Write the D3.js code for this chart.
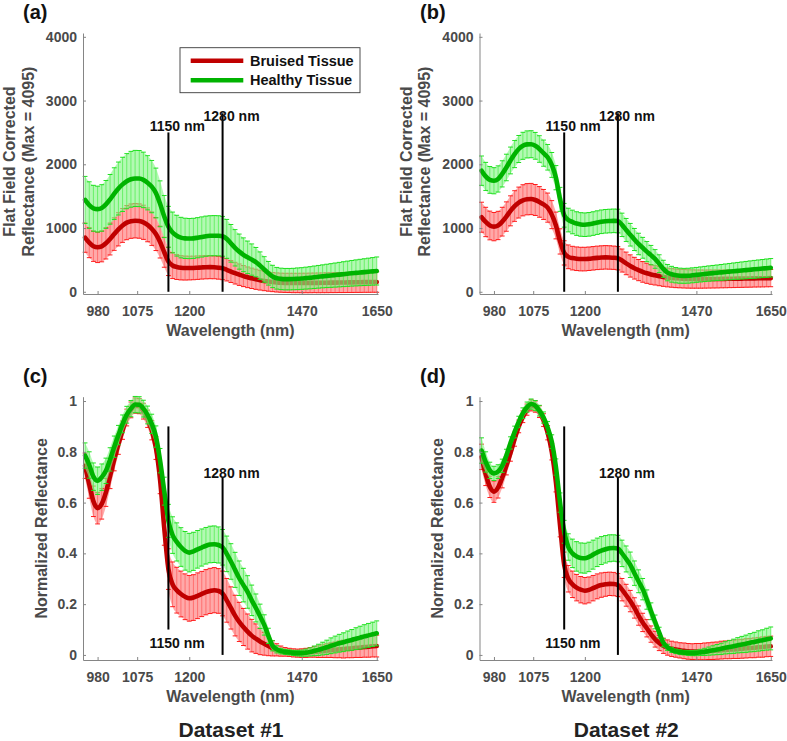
<!DOCTYPE html>
<html><head><meta charset="utf-8">
<script src="https://cdn.jsdelivr.net/npm/d3@7"></script>
<style>body{margin:0;background:#fff}</style>
</head><body><svg id="c" width="787" height="741"></svg>
<script>
// ---------------- DATA ----------------
const wavelengths = [950,960,970,980,990,1000,1010,1020,1030,1040,
1050,1060,1070,1080,1090,1100,1110,1120,1130,1140,
1150,1160,1170,1180,1190,1200,1210,1220,1230,1240,
1250,1260,1270,1280,1290,1300,1310,1320,1330,1340,
1350,1360,1370,1380,1390,1400,1410,1420,1430,1440,
1450,1460,1470,1480,1490,1500,1510,1520,1530,1540,
1550,1560,1570,1580,1590,1600,1610,1620,1630,1640,1650];

const xTicks = [980, 1075, 1200, 1470, 1650];
const yTicksRaw = [0, 1000, 2000, 3000, 4000];
const yTicksNorm = [0, 0.2, 0.4, 0.6, 0.8, 1];
const seriesNames = ["Bruised Tissue", "Healthy Tissue"];
const markerWavelengths = [1150, 1280];
const markerLabels = ["1150 nm", "1280 nm"];
const markerRangesRaw = [[0, 2500], [0, 2800]];
const markerRangesNorm = [[0.1, 0.9], [0, 0.7]];
const datasetLabels = ["Dataset #1", "Dataset #2"];

// (a) Dataset 1, flat-field corrected
const healthyMeanA = [1440,1360,1310,1297,1315,1370,1450,1540,1620,1685,
1735,1765,1778,1776,1755,1710,1650,1550,1380,1180,
1020,930,880,850,838,835,838,848,860,872,
878,880,878,870,830,760,690,630,580,540,
505,465,410,350,290,240,212,202,198,198,
200,204,208,214,220,228,235,242,249,255,
262,269,276,283,290,296,302,308,314,320,326];
const healthyStdA = [370,365,360,360,365,375,390,405,415,425,
432,438,440,440,435,425,410,390,360,330,
320,320,320,318,316,315,315,315,315,315,
315,315,315,312,305,295,285,275,265,255,
245,230,215,200,185,175,170,168,168,168,
168,170,170,172,174,176,178,180,183,186,
189,192,195,198,201,204,207,210,213,216,220];
const bruisedMeanA = [850,770,715,698,712,760,828,905,980,1040,
1085,1108,1115,1110,1090,1050,990,905,780,620,
475,412,388,376,372,372,374,378,382,385,
386,384,378,368,345,318,292,268,246,227,
211,196,182,170,160,152,146,142,140,139,
138,138,138,138,139,140,140,141,142,143,
144,145,146,147,148,149,150,151,152,153,154];
const bruisedStdA = [230,235,238,240,242,245,250,255,260,265,
268,270,270,270,268,265,262,258,250,235,
220,205,195,190,188,186,185,184,183,182,
181,180,180,178,175,172,170,168,165,162,
160,158,155,153,151,150,150,150,150,151,
152,152,153,153,154,154,155,155,156,156,
157,157,158,158,159,159,160,160,161,161,162];

// (b) Dataset 2, flat-field corrected
const healthyMeanB = [1900,1810,1755,1742,1770,1850,1950,2060,2160,2240,
2290,2312,2315,2290,2240,2175,2110,1990,1790,1450,
1200,1125,1095,1070,1056,1052,1058,1070,1085,1098,
1106,1110,1113,1110,1050,970,895,820,750,690,
630,575,515,440,360,300,275,260,252,250,
252,258,265,272,279,286,292,298,304,310,
316,322,328,334,340,346,352,358,364,370,376];
const healthyStdB = [230,220,210,205,205,205,208,210,212,212,
212,212,212,210,208,205,200,195,190,188,
186,185,185,185,185,185,185,185,185,185,
185,185,185,185,183,180,177,173,168,163,
158,152,146,140,134,128,124,120,118,117,
117,117,117,118,119,120,121,122,124,126,
128,130,132,134,136,138,140,141,142,144,145];
const bruisedMeanB = [1170,1095,1040,1022,1040,1100,1180,1270,1345,1400,
1435,1452,1455,1440,1410,1370,1320,1210,1040,790,
610,548,528,518,513,513,518,525,532,537,
540,538,534,526,490,445,405,370,340,312,
290,272,258,245,233,224,217,211,207,204,
201,200,199,199,199,200,200,201,202,203,
204,205,206,207,208,209,210,211,212,213,214];
const bruisedStdB = [235,230,225,222,222,225,230,235,240,242,
244,245,245,243,240,235,228,220,210,198,
190,186,185,185,185,185,184,184,184,184,
184,184,183,183,180,177,174,170,166,162,
158,155,152,150,148,147,146,146,145,145,
144,144,143,143,142,142,141,141,140,140,
139,139,138,138,137,137,136,136,136,135,135];

// (c) Dataset 1, normalized
const healthyMeanC = [0.785,0.748,0.702,0.686,0.700,0.725,0.770,0.820,0.866,0.910,
0.946,0.970,0.986,0.985,0.970,0.945,0.910,0.860,0.765,0.645,
0.528,0.472,0.445,0.425,0.410,0.403,0.408,0.416,0.423,0.430,
0.435,0.436,0.433,0.424,0.398,0.368,0.335,0.302,0.275,0.248,
0.215,0.185,0.152,0.118,0.075,0.036,0.022,0.015,0.012,0.010,
0.008,0.007,0.007,0.009,0.012,0.016,0.020,0.025,0.030,0.036,
0.041,0.046,0.050,0.055,0.059,0.064,0.068,0.073,0.077,0.081,0.085];
const healthyStdC = [0.050,0.052,0.054,0.054,0.052,0.050,0.046,0.042,0.038,0.035,
0.033,0.032,0.032,0.032,0.033,0.035,0.038,0.042,0.048,0.055,
0.065,0.072,0.075,0.076,0.076,0.076,0.075,0.074,0.073,0.072,
0.072,0.072,0.071,0.070,0.070,0.070,0.069,0.068,0.066,0.064,
0.060,0.055,0.048,0.040,0.030,0.020,0.014,0.011,0.010,0.010,
0.010,0.011,0.012,0.014,0.016,0.019,0.022,0.025,0.028,0.031,
0.033,0.035,0.037,0.039,0.041,0.043,0.045,0.046,0.047,0.048,0.049];
const bruisedMeanC = [0.745,0.672,0.605,0.578,0.595,0.640,0.705,0.770,0.830,0.885,
0.935,0.965,0.982,0.980,0.960,0.930,0.885,0.815,0.690,0.500,
0.338,0.278,0.255,0.240,0.229,0.223,0.226,0.233,0.240,0.247,
0.252,0.255,0.252,0.242,0.215,0.185,0.155,0.130,0.110,0.092,
0.076,0.064,0.053,0.044,0.035,0.026,0.020,0.015,0.012,0.010,
0.008,0.007,0.007,0.008,0.010,0.012,0.013,0.015,0.017,0.019,
0.020,0.022,0.023,0.025,0.026,0.028,0.029,0.031,0.032,0.034,0.035];
const bruisedStdC = [0.050,0.055,0.060,0.062,0.060,0.055,0.050,0.045,0.040,0.036,
0.033,0.031,0.030,0.030,0.031,0.034,0.038,0.045,0.055,0.068,
0.080,0.088,0.090,0.090,0.090,0.090,0.090,0.090,0.089,0.089,
0.089,0.089,0.088,0.088,0.086,0.083,0.080,0.077,0.073,0.069,
0.064,0.058,0.052,0.045,0.038,0.030,0.024,0.020,0.017,0.016,
0.016,0.016,0.017,0.018,0.019,0.021,0.023,0.025,0.027,0.029,
0.031,0.033,0.035,0.036,0.037,0.038,0.039,0.040,0.041,0.042,0.043];

// (d) Dataset 2, normalized
const healthyMeanD = [0.805,0.760,0.727,0.715,0.722,0.745,0.785,0.835,0.878,0.918,
0.952,0.976,0.988,0.982,0.962,0.935,0.895,0.840,0.740,0.600,
0.485,0.425,0.400,0.388,0.382,0.381,0.386,0.395,0.404,0.411,
0.416,0.420,0.421,0.419,0.400,0.378,0.355,0.322,0.290,0.259,
0.218,0.172,0.130,0.088,0.048,0.030,0.020,0.014,0.011,0.009,
0.008,0.007,0.008,0.010,0.012,0.015,0.018,0.021,0.024,0.028,
0.031,0.034,0.038,0.041,0.044,0.048,0.051,0.055,0.058,0.062,0.065];
const healthyStdD = [0.050,0.040,0.032,0.028,0.027,0.026,0.025,0.024,0.023,0.022,
0.021,0.020,0.020,0.020,0.021,0.022,0.024,0.027,0.032,0.038,
0.045,0.052,0.056,0.058,0.059,0.059,0.058,0.057,0.056,0.055,
0.054,0.053,0.052,0.052,0.052,0.051,0.050,0.048,0.045,0.042,
0.038,0.033,0.027,0.021,0.016,0.012,0.010,0.009,0.009,0.009,
0.010,0.010,0.011,0.012,0.014,0.016,0.018,0.020,0.022,0.024,
0.026,0.028,0.030,0.032,0.034,0.036,0.038,0.040,0.041,0.043,0.045];
const bruisedMeanD = [0.780,0.712,0.662,0.643,0.660,0.698,0.745,0.795,0.850,0.900,
0.938,0.966,0.983,0.978,0.958,0.925,0.875,0.800,0.680,0.510,
0.355,0.300,0.278,0.265,0.257,0.253,0.256,0.263,0.270,0.275,
0.278,0.280,0.279,0.275,0.257,0.235,0.212,0.185,0.155,0.128,
0.105,0.082,0.062,0.047,0.036,0.029,0.024,0.021,0.018,0.016,
0.014,0.013,0.013,0.013,0.014,0.015,0.016,0.017,0.019,0.020,
0.021,0.022,0.023,0.024,0.026,0.027,0.028,0.030,0.031,0.033,0.034];
const bruisedStdD = [0.050,0.045,0.042,0.042,0.042,0.040,0.036,0.032,0.028,0.025,
0.023,0.022,0.022,0.022,0.023,0.025,0.028,0.032,0.038,0.045,
0.050,0.052,0.052,0.052,0.052,0.052,0.051,0.050,0.049,0.048,
0.047,0.046,0.046,0.045,0.044,0.043,0.042,0.040,0.038,0.036,
0.034,0.032,0.031,0.030,0.030,0.030,0.030,0.030,0.030,0.031,
0.031,0.031,0.032,0.032,0.033,0.033,0.034,0.034,0.035,0.035,
0.036,0.036,0.037,0.037,0.038,0.038,0.039,0.039,0.040,0.040,0.040];

// ---------------- STYLE / LAYOUT ----------------
const FONT = "'Liberation Sans', Arial, Helvetica, sans-serif";
const AXIS_COLOR = "#858585", TICK_TEXT = "#4a4a4a";
const styles = {
  bruised: {band:"#ff9494", bandOp:0.8, bar:"#ff6262", cap:"#ff1a1a", mean:"#c00000"},
  healthy: {band:"#84f584", bandOp:0.62, bar:"#55ee55", cap:"#1ee01e", mean:"#00b300"}
};

const panels = [
  {letter:"(a)", lx:23, ly:18.5, left:83, right:378, top:33, bottom:294, yDomain:[-35,4060], yTicks:yTicksRaw,
   b:[bruisedMeanA,bruisedStdA], h:[healthyMeanA,healthyStdA], norm:false,
   yTitle:["Flat Field Corrected","Reflectance (Max = 4095)"], legend:true},
  {letter:"(b)", lx:420, ly:18.5, left:479.5, right:772, top:33, bottom:294, yDomain:[-35,4060], yTicks:yTicksRaw,
   b:[bruisedMeanB,bruisedStdB], h:[healthyMeanB,healthyStdB], norm:false,
   yTitle:["Flat Field Corrected","Reflectance (Max = 4095)"], legend:false},
  {letter:"(c)", lx:23, ly:382.7, left:83, right:378, top:396.7, bottom:660, yDomain:[-0.02,1.017], yTicks:yTicksNorm,
   b:[bruisedMeanC,bruisedStdC], h:[healthyMeanC,healthyStdC], norm:true,
   yTitle:["Normalized Reflectance"], legend:false, dataset:datasetLabels[0]},
  {letter:"(d)", lx:420, ly:382.7, left:479.5, right:772, top:396.7, bottom:660, yDomain:[-0.02,1.017], yTicks:yTicksNorm,
   b:[bruisedMeanD,bruisedStdD], h:[healthyMeanD,healthyStdD], norm:true,
   yTitle:["Normalized Reflectance"], legend:false, dataset:datasetLabels[1]}
];

const svg = d3.select("#c");
svg.append("rect").attr("width",787).attr("height",741).attr("fill","#fff");

function drawSeries(g, x, y, mean, std, st) {
  const pts = wavelengths.map((w,i)=>({w, m:mean[i], s:std[i]}));
  g.append("path").datum(pts)
    .attr("d", d3.area().x(d=>x(d.w)).y0(d=>y(d.m-d.s)).y1(d=>y(d.m+d.s)).curve(d3.curveMonotoneX))
    .attr("fill", st.band).attr("fill-opacity", st.bandOp);
  g.append("g").selectAll("line").data(pts).join("line")
    .attr("x1",d=>x(d.w)).attr("x2",d=>x(d.w))
    .attr("y1",d=>y(d.m-d.s)).attr("y2",d=>y(d.m+d.s))
    .attr("stroke",st.bar).attr("stroke-width",0.8);
  [1,-1].forEach(sg=>{
    g.append("g").selectAll("line").data(pts).join("line")
      .attr("x1",d=>x(d.w)-2.4).attr("x2",d=>x(d.w)+2.4)
      .attr("y1",d=>y(d.m+sg*d.s)).attr("y2",d=>y(d.m+sg*d.s))
      .attr("stroke",st.cap).attr("stroke-width",1);
  });
  g.append("path").datum(pts)
    .attr("d", d3.line().x(d=>x(d.w)).y(d=>y(d.m)).curve(d3.curveMonotoneX))
    .attr("fill","none").attr("stroke",st.mean).attr("stroke-width",4.6)
    .attr("stroke-linejoin","round").attr("stroke-linecap","round");
}

panels.forEach(p=>{
  const x = d3.scaleLinear().domain([945,1653]).range([p.left,p.right]);
  const y = d3.scaleLinear().domain(p.yDomain).range([p.bottom,p.top]);
  const g = svg.append("g");

  drawSeries(g, x, y, p.b[0], p.b[1], styles.bruised);
  drawSeries(g, x, y, p.h[0], p.h[1], styles.healthy);

  // marker lines
  const ranges = p.norm ? markerRangesNorm : markerRangesRaw;
  markerWavelengths.forEach((w,i)=>{
    g.append("line").attr("x1",x(w)).attr("x2",x(w))
      .attr("y1",y(ranges[i][0])).attr("y2",y(ranges[i][1]))
      .attr("stroke","#000").attr("stroke-width",2);
  });
  // marker labels
  const lab = (txt, cx, by)=> g.append("text").attr("x",cx).attr("y",by)
      .attr("text-anchor","middle").attr("font-family",FONT).attr("font-weight","bold")
      .attr("font-size",14).attr("fill","#111").text(txt);
  if (!p.norm) {
    lab(markerLabels[0], x(markerWavelengths[0])+9, y(ranges[0][1])-1.3);
    lab(markerLabels[1], x(markerWavelengths[1])+9, y(ranges[1][1])+7.4);
  } else {
    lab(markerLabels[0], x(markerWavelengths[0])+8.7, y(ranges[0][0])+18.8);
    lab(markerLabels[1], x(markerWavelengths[1])+9, y(ranges[1][1])+0.5);
  }

  // axes
  const ax = g.append("g").attr("transform",`translate(0,${p.bottom})`)
    .call(d3.axisBottom(x).tickValues(xTicks).tickSize(-3).tickSizeOuter(0).tickPadding(12).tickFormat(d=>d));
  const ay = g.append("g").attr("transform",`translate(${p.left},0)`)
    .call(d3.axisLeft(y).tickValues(p.yTicks).tickSize(-3).tickSizeOuter(0).tickPadding(6).tickFormat(d=>d));
  [ax,ay].forEach(a=>{
    a.select(".domain").attr("stroke",AXIS_COLOR).attr("stroke-width",1);
    a.selectAll(".tick line").attr("stroke",AXIS_COLOR);
    a.selectAll(".tick text").attr("font-family",FONT).attr("font-weight","bold")
      .attr("font-size",14).attr("fill",TICK_TEXT);
  });
  // x title
  g.append("text").attr("x",(p.left+p.right)/2).attr("y",p.bottom+41.5)
    .attr("text-anchor","middle").attr("font-family",FONT).attr("font-weight","bold")
    .attr("font-size",16).attr("fill",TICK_TEXT).text("Wavelength (nm)");
  // y title
  const cy = (p.top+p.bottom)/2 - 2;
  if (p.yTitle.length === 2) {
    [[p.yTitle[0], p.left-67.6],[p.yTitle[1], p.left-49.5]].forEach(([t,bx])=>{
      g.append("text").attr("transform",`translate(${bx},${cy}) rotate(-90)`)
        .attr("text-anchor","middle").attr("font-family",FONT).attr("font-weight","bold")
        .attr("font-size",16).attr("fill",TICK_TEXT).text(t);
    });
  } else {
    g.append("text").attr("transform",`translate(${p.left-36.3},${(p.top+p.bottom)/2}) rotate(-90)`)
      .attr("text-anchor","middle").attr("font-family",FONT).attr("font-weight","bold")
      .attr("font-size",16).attr("fill",TICK_TEXT).text(p.yTitle[0]);
  }
  // panel letter
  g.append("text").attr("x",p.lx).attr("y",p.ly).attr("font-family",FONT).attr("font-weight","bold")
    .attr("font-size",20).attr("fill","#111").text(p.letter);
  // dataset label
  if (p.dataset) {
    g.append("text").attr("x",(p.left+p.right)/2 + 0.5).attr("y",736.5)
      .attr("text-anchor","middle").attr("font-family",FONT).attr("font-weight","bold")
      .attr("font-size",21).attr("fill","#222").text(p.dataset);
  }
  // legend
  if (p.legend) {
    const lg = g.append("g");
    lg.append("rect").attr("x",180).attr("y",47.7).attr("width",180).attr("height",45)
      .attr("fill","#fff").attr("stroke","#3a3a3a").attr("stroke-width",0.9);
    [[styles.bruised.mean, 60.7, seriesNames[0]],[styles.healthy.mean, 80.2, seriesNames[1]]].forEach(([c,yy,t])=>{
      lg.append("line").attr("x1",190.7).attr("x2",243.3).attr("y1",yy).attr("y2",yy)
        .attr("stroke",c).attr("stroke-width",4.5);
      lg.append("text").attr("x",250).attr("y",yy+5.2).attr("font-family",FONT).attr("font-weight","bold")
        .attr("font-size",14.5).attr("fill","#111").text(t);
    });
  }
});
</script></body></html>
